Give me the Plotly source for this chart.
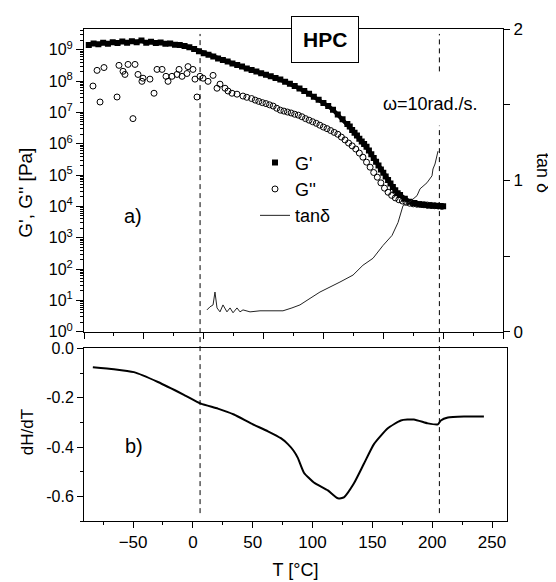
import plotly.graph_objects as go

# ---------------- data ----------------
# panel a) : temperature on the top-panel axis (deg C), moduli stored as log10(Pa)
gp_T = [-96, -92, -88, -84, -80, -76, -72, -68, -64, -60, -56, -52, -48, -44, -40, -36, -32, -28,
        -24, -20, -16, -12, -8, -4, 0, 4, 8, 12, 16, 20, 24, 28, 32, 36, 40, 44, 48, 52, 56, 60,
        64, 68, 72, 76, 80, 84, 88, 92, 96, 100, 104, 108, 112, 116, 120, 122, 124, 126, 128, 130,
        132, 134, 136, 138, 140, 142, 144, 146, 148, 150, 152, 154, 156, 158, 160, 162, 164, 168,
        172, 176, 180, 184, 188, 192, 196, 200]
gp_log = [9.15, 9.20, 9.17, 9.22, 9.19, 9.24, 9.21, 9.26, 9.22, 9.27, 9.24, 9.29, 9.22, 9.25, 9.21,
          9.23, 9.19, 9.20, 9.16, 9.15, 9.12, 9.08, 9.02, 8.95, 8.89, 8.84, 8.78, 8.72, 8.67, 8.62,
          8.56, 8.51, 8.46, 8.40, 8.35, 8.30, 8.25, 8.20, 8.15, 8.10, 8.05, 7.98, 7.91, 7.84, 7.76,
          7.68, 7.59, 7.50, 7.40, 7.30, 7.20, 7.08, 6.93, 6.78, 6.63, 6.55, 6.44, 6.35, 6.26, 6.16,
          6.07, 5.99, 5.90, 5.78, 5.66, 5.54, 5.42, 5.30, 5.18, 5.07, 4.95, 4.84, 4.73, 4.62, 4.51,
          4.42, 4.36, 4.24, 4.15, 4.11, 4.07, 4.05, 4.03, 4.02, 4.01, 4.00]

gpp_T = [-92.5, -89.1, -86.6, -83.3, -72.4, -70.8, -67.4, -65.8, -63.2, -59.1, -57.4, -54.9, -51.6,
         -50.7, -44.9, -41.5, -39.0, -34.8, -31.5, -29.8, -26.5, -22.3, -20.6, -18.1, -14.0, -13.1,
         -9.0, -7.3, -5.6, -3.1, -0.6, 3.6, 7.8, 11.1, 13.6, 17.8, 20.3, 23.6, 27.8, 32.8, 36.0,
         40, 43, 46, 49, 52, 55, 58, 61, 64, 67, 70, 73, 76, 79, 82, 85, 88, 91, 94, 97, 100, 103,
         106, 109, 112, 115, 118, 121, 124, 127, 130, 133, 136, 139, 142, 145, 148, 151, 154, 157,
         160, 163, 166, 169, 172, 175, 178, 181, 184, 187, 190, 193, 196, 199]
gpp_log = [7.84, 8.34, 7.33, 8.43, 7.49, 8.50, 8.31, 8.21, 8.53, 6.80, 8.53, 8.21, 7.99, 8.09, 8.06,
           7.61, 8.37, 8.37, 8.15, 7.99, 8.15, 8.21, 8.37, 8.15, 8.24, 8.46, 8.37, 8.06, 7.49, 8.15,
           8.09, 7.99, 8.18, 7.77, 7.90, 7.77, 7.68, 7.61, 7.58, 7.52, 7.48,
           7.44, 7.39, 7.35, 7.31, 7.28, 7.24, 7.20, 7.13, 7.07, 7.04, 7.01, 6.98, 6.94, 6.91, 6.86,
           6.80, 6.75, 6.70, 6.65, 6.59, 6.53, 6.48, 6.42, 6.36, 6.30, 6.21, 6.12, 6.02, 5.93, 5.83,
           5.70, 5.57, 5.41, 5.25, 5.08, 4.93, 4.75, 4.58, 4.45, 4.35, 4.27, 4.21, 4.17, 4.13, 4.10,
           4.08, 4.07, 4.06, 4.05, 4.04, 4.03, 4.02, 4.01, 4.00]

tan_T = [2.7, 5.2, 7.8, 9.4, 11.1, 13.6, 16.1, 19.4, 22.0, 24.5, 27.8, 30.3, 32.8, 38.7, 47.0, 55.4,
         66.2, 73.7, 80.4, 88.8, 97.1, 113.8, 124.7, 133.0, 141.4, 149.8, 157.3, 162.3, 166.5,
         172.3, 178.2, 180.7, 186.5, 190.7, 191.5, 193.2, 194.9, 195.7]
tan_d = [0.144, 0.164, 0.177, 0.262, 0.157, 0.131, 0.177, 0.131, 0.157, 0.125, 0.157, 0.131, 0.144,
         0.131, 0.138, 0.138, 0.138, 0.157, 0.177, 0.220, 0.262, 0.328, 0.374, 0.439, 0.485, 0.570,
         0.636, 0.721, 0.833, 0.859, 0.899, 0.944, 0.984, 1.030, 1.075, 1.108, 1.161, 1.193]

# panel b) : DSC
dsc_T = [-83.6, -66.0, -49.3, -29.2, -7.5, 6.7, 20.9, 34.3, 48.5, 62.7, 73.5, 79.4, 84.0, 87.7,
         92.8, 101.1, 112.8, 121.2, 126.2, 134.5, 142.9, 151.3, 162.9, 173.8, 184.7, 196.4, 204.7,
         207.2, 213.1, 226.5, 243.2]
dsc_dHdT = [-0.076, -0.084, -0.096, -0.136, -0.188, -0.224, -0.244, -0.268, -0.304, -0.336,
            -0.364, -0.388, -0.414, -0.444, -0.504, -0.544, -0.576, -0.608, -0.604, -0.548,
            -0.468, -0.388, -0.324, -0.292, -0.288, -0.304, -0.308, -0.292, -0.280, -0.276,
            -0.276]

# marked transition temperatures (bottom-panel axis)
trans_T = [6, 206]

log_ticks = [0, 1, 2, 3, 4, 5, 6, 7, 8, 9]
dsc_ticks = [0.0, -0.2, -0.4, -0.6]
dsc_ticktext = ["0.0", "-0.2", "-0.4", "-0.6"]

# ---------------- figure ----------------
FONT = "Liberation Sans, Arial, sans-serif"
W, H = 556, 582
OFF = 8                      # page body margin of the html page
L_PX, R_PX, T_PX, B_PX = 84, 507, 22, 521   # plot area in window pixels
ML, MR = L_PX - OFF, W - (R_PX - OFF)
MT, MB = T_PX - OFF, H - (B_PX - OFF)
PW, PH = R_PX - L_PX, B_PX - T_PX


def px_x(px):
    return (px - L_PX) / PW


def px_y(py):
    return (B_PX - py) / PH


fig = go.Figure()

gp_pa = [10 ** v for v in gp_log]
gpp_pa = [10 ** v for v in gpp_log]

fig.add_trace(go.Scatter(
    x=gp_T, y=gp_pa, mode="lines", showlegend=False, hoverinfo="skip",
    line=dict(color="black", width=4), xaxis="x", yaxis="y"))
fig.add_trace(go.Scatter(
    x=gp_T, y=gp_pa, mode="markers", name="G'",
    marker=dict(symbol="square", size=6, color="black", line=dict(width=0)),
    xaxis="x", yaxis="y"))
fig.add_trace(go.Scatter(
    x=gpp_T, y=gpp_pa, mode="markers", name="G''",
    marker=dict(symbol="circle-open", size=6, color="black", line=dict(width=1, color="black")),
    xaxis="x", yaxis="y"))
fig.add_trace(go.Scatter(
    x=tan_T, y=tan_d, mode="lines", name="tan\u03b4",
    line=dict(color="#222", width=1),
    xaxis="x", yaxis="y3"))
fig.add_trace(go.Scatter(
    x=dsc_T, y=dsc_dHdT, mode="lines", showlegend=False,
    line=dict(color="black", width=2, shape="spline", smoothing=0.5),
    xaxis="x2", yaxis="y2"))
# invisible copy of G' on the overlaid axis that carries the 2..9 minor marks
fig.add_trace(go.Scatter(
    x=gp_T, y=gp_pa, mode="markers", showlegend=False, hoverinfo="skip",
    marker=dict(size=1, opacity=0), xaxis="x", yaxis="y4"))

top_dom = [px_y(329), 1.0]
bot_dom = [0.0, px_y(346)]


def axis_common(size):
    return dict(showline=True, linecolor="black", linewidth=1, ticks="outside",
                tickcolor="black", showgrid=False, zeroline=False,
                tickfont=dict(family=FONT, size=size, color="black"))


fig.update_layout(
    width=W, height=H,
    margin=dict(l=ML, r=MR, t=MT, b=MB),
    paper_bgcolor="white", plot_bgcolor="white",
    font=dict(family=FONT, color="black"),
    showlegend=True,
    legend=dict(x=px_x(255), y=px_y(139), xanchor="left", yanchor="top",
                bgcolor="rgba(0,0,0,0)", font=dict(family=FONT, size=18, color="black"),
                tracegroupgap=0, itemwidth=30),
    xaxis=dict(domain=[0, px_x(503)], anchor="y", range=[-100, 250], dtick=50, tick0=-100,
               ticklen=6, showticklabels=False, mirror=True,
               minor=dict(dtick=25, ticklen=3, ticks="outside", tickcolor="black"),
               **axis_common(16)),
    yaxis=dict(domain=top_dom, anchor="x", type="log", range=[0, 9.66],
               tickvals=[10 ** k for k in log_ticks],
               ticktext=["10<sup>%d</sup>" % k for k in log_ticks],
               ticklen=7,
               **axis_common(16)),
    yaxis4=dict(anchor="x", overlaying="y", side="left", type="log", range=[0, 9.66],
                tickmode="linear", tick0=0, dtick="D1", ticks="outside", ticklen=3,
                tickcolor="black", showticklabels=False, showline=False, showgrid=False,
                zeroline=False),
    yaxis3=dict(anchor="x", overlaying="y", side="right", range=[0, 2],
                tickvals=[0, 1, 2], ticklen=6,
                minor=dict(dtick=0.5, ticklen=6, ticks="outside", tickcolor="black"),
                **axis_common(17)),
    xaxis2=dict(domain=[0, 1], anchor="y2", range=[-91, 262.5], dtick=50, tick0=0,
                ticklen=6, mirror=True,
                minor=dict(dtick=25, ticklen=3, ticks="outside", tickcolor="black"),
                title=dict(text="T [\u00b0C]", font=dict(family=FONT, size=18), standoff=11),
                **axis_common(17)),
    yaxis2=dict(domain=bot_dom, anchor="x2", range=[-0.7, 0.0],
                tickvals=dsc_ticks, ticktext=dsc_ticktext, ticklen=6, mirror=True,
                minor=dict(dtick=0.1, ticklen=3, ticks="outside", tickcolor="black"),
                **axis_common(16)),
)

# dashed vertical guide lines through both panels
dash = "5px,4px"
fig.add_shape(type="line", xref="x2", yref="paper", x0=trans_T[0], x1=trans_T[0],
              y0=px_y(513), y1=px_y(27), line=dict(color="black", width=1, dash=dash))
fig.add_shape(type="line", xref="x2", yref="paper", x0=trans_T[1], x1=trans_T[1],
              y0=px_y(513), y1=px_y(120), line=dict(color="black", width=1, dash=dash))
fig.add_shape(type="line", xref="x2", yref="paper", x0=trans_T[1], x1=trans_T[1],
              y0=px_y(65), y1=px_y(27), line=dict(color="black", width=1, dash=dash))


def label(text, px, py, size, angle=0, **kw):
    fig.add_annotation(x=px_x(px), y=px_y(py), xref="paper", yref="paper", text=text,
                       showarrow=False, xanchor="center", yanchor="middle", textangle=angle,
                       font=dict(family=FONT, size=size, color="black"), **kw)


label("<b>HPC</b>", 325, 33, 21, bordercolor="black", borderwidth=1, borderpad=11,
      bgcolor="white")
label("\u03c9=10rad./s.", 430, 98, 18)
label("a)", 133, 212, 20)
label("b)", 134, 445, 20)
label("tan \u03b4", 543, 168, 18, angle=90)
label("G', G'' [Pa]", 26, 188, 19, angle=-90)
label("dH/dT", 27, 431, 17, angle=-90)

fig.write_html("out.html")
